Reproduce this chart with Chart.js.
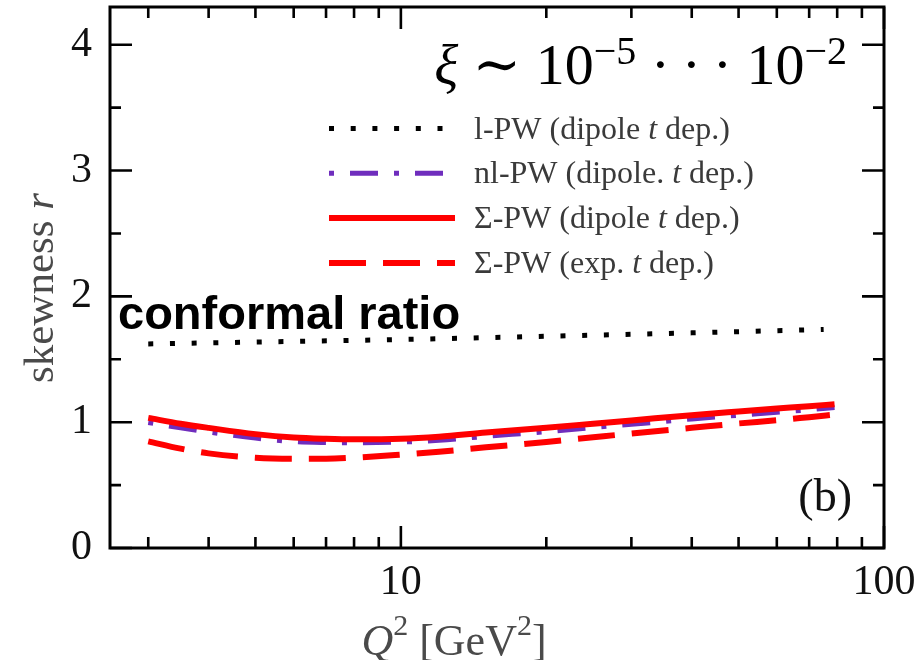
<!DOCTYPE html>
<html>
<head>
<meta charset="utf-8">
<script src="https://cdn.jsdelivr.net/npm/chart.js@4.4.0/dist/chart.umd.min.js"></script>
<style>
html,body{margin:0;padding:0;background:#fff;}
#wrap{width:920px;height:660px;}
</style>
</head>
<body>
<div id="wrap"><canvas id="c" width="920" height="660"></canvas></div>
<script>
// ---- data ----
const qCurves       = [3, 3.5, 4, 5, 6, 7, 8, 10, 12, 15, 20, 25, 30, 40, 50, 60, 70, 79];
const rSigmaDipole  = [1.034, 0.988, 0.955, 0.905, 0.878, 0.868, 0.864, 0.868, 0.885, 0.918, 0.956, 0.988, 1.014, 1.056, 1.085, 1.108, 1.127, 1.143];
const rNlPW         = [0.997, 0.955, 0.922, 0.874, 0.846, 0.838, 0.836, 0.842, 0.856, 0.887, 0.925, 0.958, 0.983, 1.026, 1.055, 1.079, 1.099, 1.117];
const rSigmaExp     = [0.848, 0.790, 0.752, 0.718, 0.710, 0.710, 0.718, 0.742, 0.765, 0.800, 0.843, 0.880, 0.910, 0.955, 0.990, 1.015, 1.040, 1.060];
const qLPW          = [3, 5, 10, 20, 40, 75];
const rLPW          = [1.622, 1.637, 1.657, 1.683, 1.710, 1.737];

const seriesLabels  = ['l-PW (dipole t dep.)', 'nl-PW (dipole. t dep.)', 'Σ-PW (dipole t dep.)', 'Σ-PW (exp. t dep.)'];
const xMajorTicks   = [10, 100];
const xMinorTicks   = [3, 4, 5, 6, 7, 8, 9, 20, 30, 40, 50, 60, 70, 80, 90];
const yMajorTicks   = [0, 1, 2, 3, 4];
const yMinorTicks   = [0.5, 1.5, 2.5, 3.5];
const xRange        = [2.5, 100];
const yRange        = [0, 4.3];

// ---- helpers ----
const SERIF = "'Liberation Serif','Times New Roman','DejaVu Serif',serif";
const SANS  = "'Liberation Sans',Arial,'DejaVu Sans',sans-serif";
const pts = (xs, ys) => xs.map((q, i) => ({x: q, y: ys[i]}));

function richWidth(ctx, parts) {
  let w = 0;
  for (const p of parts) { ctx.font = p.font; w += ctx.measureText(p.t).width; }
  return w;
}
function drawRich(ctx, parts, x, y, align) {
  const w = richWidth(ctx, parts);
  let cx = align === 'center' ? x - w / 2 : (align === 'right' ? x - w : x);
  ctx.textAlign = 'left';
  ctx.textBaseline = 'alphabetic';
  for (const p of parts) {
    ctx.font = p.font;
    ctx.fillText(p.t, cx, y - (p.dy || 0));
    cx += ctx.measureText(p.t).width;
  }
}

const decor = {
  id: 'decor',
  afterDraw(chart) {
    const {ctx, chartArea: a, scales: {x, y}} = chart;
    ctx.save();
    // frame
    ctx.setLineDash([]);
    ctx.strokeStyle = '#000';
    ctx.lineWidth = 3;
    ctx.strokeRect(a.left, a.top, a.right - a.left, a.bottom - a.top);
    // inward ticks
    ctx.lineWidth = 2.6;
    ctx.lineCap = 'butt';
    const xt = (v, len) => {
      const p = x.getPixelForValue(v);
      ctx.beginPath();
      ctx.moveTo(p, a.bottom); ctx.lineTo(p, a.bottom - len);
      ctx.moveTo(p, a.top); ctx.lineTo(p, a.top + len);
      ctx.stroke();
    };
    const yt = (v, len) => {
      const p = y.getPixelForValue(v);
      ctx.beginPath();
      ctx.moveTo(a.left, p); ctx.lineTo(a.left + len, p);
      ctx.moveTo(a.right, p); ctx.lineTo(a.right - len, p);
      ctx.stroke();
    };
    xMajorTicks.forEach(v => xt(v, 22));
    xMinorTicks.forEach(v => xt(v, 11));
    yMajorTicks.forEach(v => yt(v, 22));
    yMinorTicks.forEach(v => yt(v, 11));

    // legend (inside plot)
    const legX0 = a.left + 219, legX1 = a.left + 345, legTx = a.left + 364;
    const legY0 = a.top + 121.5, legDy = 44.8;
    chart.data.datasets.forEach((ds, i) => {
      const yy = legY0 + i * legDy;
      ctx.save();
      ctx.strokeStyle = ds.borderColor;
      ctx.lineWidth = ds.borderWidth;
      ctx.setLineDash(ds.borderDash || []);
      ctx.lineCap = 'butt';
      ctx.beginPath(); ctx.moveTo(legX0, yy); ctx.lineTo(legX1, yy); ctx.stroke();
      ctx.restore();
      const sp = ds.label.split(' t ');
      ctx.fillStyle = '#3a3a3a';
      drawRich(ctx, [
        {t: sp[0] + ' ', font: '32px ' + SERIF},
        {t: 't', font: 'italic 32px ' + SERIF},
        {t: ' ' + sp[1], font: '32px ' + SERIF}
      ], legTx, yy + 10, 'left');
    });

    // xi annotation
    ctx.fillStyle = '#000';
    drawRich(ctx, [
      {t: 'ξ', font: 'italic 56px ' + SERIF},
      {t: ' ∼ ', font: '58px ' + SERIF},
      {t: '10', font: '58px ' + SERIF},
      {t: '−5', font: '40px ' + SERIF, dy: 20},
      {t: ' ·\u2009·\u2009· ', font: '58px ' + SERIF},
      {t: '10', font: '58px ' + SERIF},
      {t: '−2', font: '40px ' + SERIF, dy: 20}
    ], a.right - 37, a.top + 77, 'right');

    // (b)
    ctx.fillStyle = '#111';
    drawRich(ctx, [{t: '(b)', font: '46px ' + SERIF}], a.right - 32, a.top + 504, 'right');

    // conformal ratio
    ctx.fillStyle = '#000';
    drawRich(ctx, [{t: 'conformal ratio', font: 'bold 47px ' + SANS}], a.left + 8, a.top + 322, 'left');

    // axis titles
    ctx.fillStyle = '#4a4a4a';
    drawRich(ctx, [
      {t: 'Q', font: 'italic 44px ' + SERIF},
      {t: '2', font: '30px ' + SERIF, dy: 20},
      {t: ' [GeV', font: '44px ' + SERIF},
      {t: '2', font: '30px ' + SERIF, dy: 20},
      {t: ']', font: '44px ' + SERIF}
    ], 454, 655, 'center');

    ctx.save();
    ctx.translate(53, 288);
    ctx.rotate(-Math.PI / 2);
    drawRich(ctx, [
      {t: 'skewness ', font: '43px ' + SERIF},
      {t: 'r', font: 'italic 43px ' + SERIF}
    ], 0, 0, 'center');
    ctx.restore();

    ctx.restore();
  }
};

const common = {pointRadius: 0, pointHoverRadius: 0, fill: false, cubicInterpolationMode: 'monotone', borderCapStyle: 'butt', borderJoinStyle: 'round'};

new Chart(document.getElementById('c'), {
  type: 'line',
  data: {
    datasets: [
      Object.assign({label: seriesLabels[0], data: pts(qLPW, rLPW), borderColor: '#000000', borderWidth: 5, borderDash: [5, 16.7], order: 4}, common),
      Object.assign({label: seriesLabels[1], data: pts(qCurves, rNlPW), borderColor: '#6f2dbd', borderWidth: 5, borderDash: [5, 16, 28, 16], order: 3}, common),
      Object.assign({label: seriesLabels[2], data: pts(qCurves, rSigmaDipole), borderColor: '#ff0000', borderWidth: 6, order: 1}, common),
      Object.assign({label: seriesLabels[3], data: pts(qCurves, rSigmaExp), borderColor: '#ff0000', borderWidth: 6, borderDash: [37, 17], order: 2}, common)
    ]
  },
  options: {
    responsive: false,
    animation: false,
    events: [],
    layout: {padding: {top: 7, right: 36, left: 0, bottom: 0}},
    plugins: {legend: {display: false}, tooltip: {enabled: false}},
    scales: {
      x: {
        type: 'logarithmic',
        min: xRange[0], max: xRange[1],
        grid: {display: false, drawTicks: false},
        border: {display: false},
        afterBuildTicks: s => { s.ticks = xMinorTicks.concat(xMajorTicks).sort((p, q) => p - q).map(v => ({value: v})); },
        afterFit: s => { s.height = 112; s.paddingLeft = 0; s.paddingRight = 0; },
        ticks: {
          autoSkip: false, maxRotation: 0, minRotation: 0, padding: 10, color: '#111',
          font: {family: SERIF, size: 42},
          callback: v => xMajorTicks.includes(v) ? String(v) : ''
        }
      },
      y: {
        type: 'linear',
        min: yRange[0], max: yRange[1],
        grid: {display: false, drawTicks: false},
        border: {display: false},
        afterBuildTicks: s => { s.ticks = yMajorTicks.concat(yMinorTicks).sort((p, q) => p - q).map(v => ({value: v})); },
        afterFit: s => { s.width = 110; s.paddingTop = 0; s.paddingBottom = 0; },
        ticks: {
          autoSkip: false, padding: 18, color: '#111',
          font: {family: SERIF, size: 42},
          callback: v => yMajorTicks.includes(v) ? String(v) : ''
        }
      }
    }
  },
  plugins: [decor]
});
</script>
</body>
</html>
